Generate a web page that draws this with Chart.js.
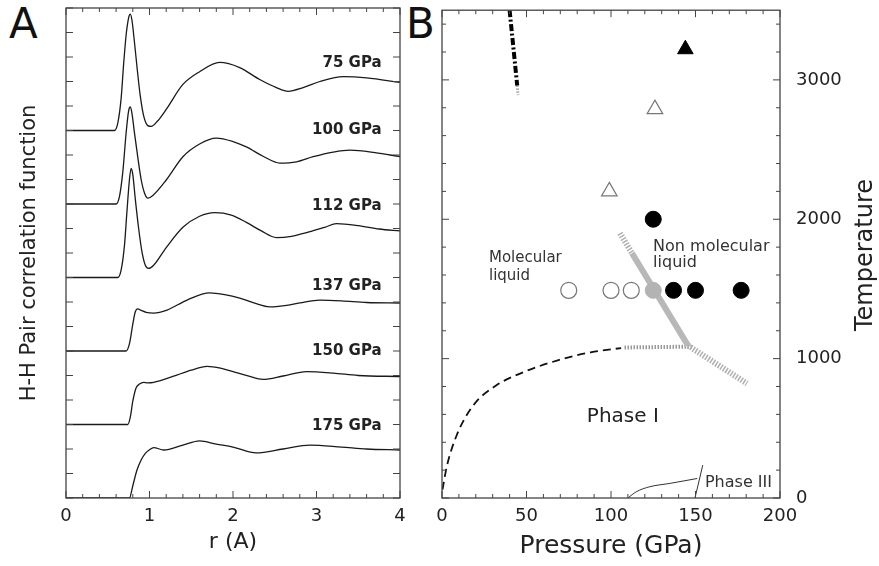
<!DOCTYPE html>
<html>
<head>
<meta charset="utf-8">
<script src="https://cdn.jsdelivr.net/npm/chart.js@4.4.1/dist/chart.umd.min.js"></script>
<style>
  body { margin: 0; background: #fff; width: 879px; height: 566px; position: relative; overflow: hidden; font-family: 'DejaVu Sans', sans-serif; }
  canvas { position: absolute; top: 0; }
  #cA { left: 0; }
  #cB { left: 420px; }
  .letter { position: absolute; top: 3px; font-size: 42px; line-height: 1; color: #111; }
  #temp { position: absolute; left: 764px; top: 243px; width: 200px; height: 24px; font-size: 24px; line-height: 1;
          text-align: center; color: #222; transform: rotate(-90deg); white-space: nowrap; }
</style>
</head>
<body>
<div class="letter" style="left:9px">A</div>
<div class="letter" style="left:406px">B</div>
<canvas id="cA" width="430" height="566"></canvas>
<canvas id="cB" width="459" height="566"></canvas>
<div id="temp">Temperature</div>
<script>
// ---- panel A : g(r) curves, shifted upward by an offset each ----
const pressuresA = ['75 GPa', '100 GPa', '112 GPa', '137 GPa', '150 GPa', '175 GPa'];
const offsetsA = [15, 12, 9, 6, 3, 0];
const labelYA = [17.75, 15.0, 11.9, 8.65, 6.0, 2.95];

const r75 = [0, 0.58, 0.62, 0.66, 0.69, 0.72, 0.75, 0.77, 0.79, 0.82, 0.85, 0.89, 0.93, 0.98, 1.02, 1.1, 1.2, 1.4, 1.6, 1.84, 2.08, 2.32, 2.52, 2.66, 2.84, 3.04, 3.32, 3.6, 4.0];
const g75 = [0, 0, 0.3, 1.3, 2.7, 3.9, 4.6, 4.75, 4.5, 3.6, 2.6, 1.4, 0.6, 0.2, 0.17, 0.4, 0.86, 1.88, 2.4, 2.78, 2.57, 2.08, 1.75, 1.6, 1.75, 2.0, 2.2, 2.15, 1.96];

const r100 = [0, 0.6, 0.64, 0.68, 0.72, 0.75, 0.77, 0.79, 0.82, 0.86, 0.9, 0.94, 0.98, 1.04, 1.2, 1.4, 1.6, 1.8, 2.0, 2.16, 2.36, 2.56, 2.76, 2.96, 3.2, 3.4, 3.7, 4.0];
const g100 = [0, 0, 0.3, 1.3, 2.9, 3.8, 3.96, 3.7, 2.9, 1.9, 1.0, 0.45, 0.24, 0.35, 0.98, 1.93, 2.45, 2.69, 2.55, 2.33, 1.95, 1.67, 1.72, 1.93, 2.12, 2.2, 2.1, 1.93];

const r112 = [0, 0.62, 0.66, 0.7, 0.73, 0.76, 0.78, 0.8, 0.83, 0.87, 0.91, 0.95, 0.99, 1.05, 1.2, 1.4, 1.6, 1.78, 1.98, 2.16, 2.34, 2.52, 2.7, 2.9, 3.1, 3.24, 3.5, 3.75, 4.0];
const g112 = [0, 0, 0.3, 1.3, 2.7, 4.0, 4.45, 4.2, 3.2, 2.0, 1.05, 0.5, 0.37, 0.5, 1.22, 2.05, 2.5, 2.65, 2.55, 2.25, 1.9, 1.63, 1.68, 1.85, 2.05, 2.2, 2.12, 1.98, 1.9];

const r137 = [0, 0.72, 0.76, 0.8, 0.83, 0.86, 0.9, 0.96, 1.05, 1.21, 1.45, 1.72, 1.9, 2.08, 2.26, 2.44, 2.62, 2.8, 3.04, 3.3, 3.6, 4.0];
const g137 = [0, 0, 0.3, 1.1, 1.6, 1.72, 1.66, 1.58, 1.55, 1.67, 2.08, 2.37, 2.3, 2.16, 1.95, 1.8, 1.85, 1.96, 2.08, 2.05, 1.98, 1.96];

const r150 = [0, 0.74, 0.77, 0.8, 0.84, 0.88, 0.93, 0.98, 1.05, 1.28, 1.5, 1.69, 1.85, 2.0, 2.18, 2.36, 2.6, 2.88, 3.2, 3.5, 4.0];
const g150 = [0, 0, 0.3, 0.95, 1.5, 1.65, 1.72, 1.7, 1.72, 1.96, 2.22, 2.37, 2.3, 2.16, 1.98, 1.84, 1.98, 2.16, 2.1, 2.0, 1.96];

const r175 = [0, 0.76, 0.8, 0.85, 0.9, 0.95, 1.0, 1.05, 1.17, 1.4, 1.6, 1.8, 2.0, 2.28, 2.6, 2.92, 3.3, 3.6, 4.0];
const g175 = [0, 0, 0.5, 1.14, 1.55, 1.82, 1.97, 2.06, 1.96, 2.16, 2.33, 2.2, 2.08, 1.84, 2.0, 2.16, 2.08, 2.0, 1.96];

const curvesA = [[r75, g75], [r100, g100], [r112, g112], [r137, g137], [r150, g150], [r175, g175]];

// ---- panel B : phase diagram ----
const openCircleP = [75, 100, 112];
const openCircleT = [1490, 1490, 1490];
const grayCircleP = [125];
const grayCircleT = [1490];
const filledCircleP = [125, 137, 150, 177];
const filledCircleT = [2000, 1490, 1490, 1490];
const openTriP = [99, 126];
const openTriT = [2200, 2790];
const filledTriP = [144];
const filledTriT = [3220];

const dashDotP = [40, 44.5];
const dashDotT = [3500, 2960];
const dashDotTailP = [44.5, 45];
const dashDotTailT = [2960, 2890];
const boundaryP = [112.4, 145.6];
const boundaryT = [1757, 1093];
const boundaryUpP = [105.3, 112.4];
const boundaryUpT = [1900, 1757];
const boundaryLowP = [145.6, 180.5];
const boundaryLowT = [1093, 821];
const meltP = [0.3, 2.8, 8.7, 18.5, 32, 48, 68, 88, 106];
const meltT = [60, 224, 450, 664, 807, 902, 986, 1045, 1076];
const meltTailP = [108, 148];
const meltTailT = [1080, 1086];
const phase3P = [110, 115, 123, 135, 151];
const phase3T = [0, 45, 81, 105, 140];
const phase3VP = [149.7, 154.3];
const phase3VT = [0, 236];
const tempLabels = [0, 1000, 2000, 3000];

const pts = (xs, ys) => xs.map((x, i) => ({x: x, y: ys[i]}));
const FONT = "'DejaVu Sans', sans-serif";

// frame + inward ticks on all four sides
function frameTicks(c) {
  return {
    id: 'frameTicks',
    afterDatasetsDraw(chart) {
      const {ctx, chartArea: a} = chart;
      const xs = chart.scales.x, ys = chart.scales.y;
      ctx.save();
      ctx.strokeStyle = '#444';
      ctx.lineWidth = 1.3;
      ctx.strokeRect(a.left, a.top, a.width, a.height);
      ctx.lineWidth = 1;
      ctx.beginPath();
      const nx = Math.round((xs.max - xs.min) / c.xMinor);
      for (let i = 0; i <= nx; i++) {
        const px = xs.getPixelForValue(xs.min + i * c.xMinor);
        const len = i % c.xEvery === 0 ? 7 : 4;
        ctx.moveTo(px, a.bottom); ctx.lineTo(px, a.bottom - len);
        ctx.moveTo(px, a.top); ctx.lineTo(px, a.top + len);
      }
      const ny = Math.floor((ys.max - ys.min) / c.yMinor + 1e-6);
      for (let i = 0; i <= ny; i++) {
        const py = ys.getPixelForValue(ys.min + i * c.yMinor);
        const len = i % c.yEvery === 0 ? 7 : 4;
        ctx.moveTo(a.left, py); ctx.lineTo(a.left + len, py);
        ctx.moveTo(a.right, py); ctx.lineTo(a.right - len, py);
      }
      ctx.stroke();
      ctx.restore();
    }
  };
}

function notes(items) {
  return {
    id: 'notes',
    afterDatasetsDraw(chart) {
      const {ctx} = chart;
      ctx.save();
      ctx.textBaseline = 'middle';
      items.forEach(n => {
        ctx.font = n.font;
        ctx.fillStyle = n.color || '#222';
        ctx.textAlign = n.align;
        ctx.fillText(n.text, chart.scales.x.getPixelForValue(n.x), chart.scales.y.getPixelForValue(n.y));
      });
      ctx.restore();
    }
  };
}

const tickFont = {family: FONT, size: 18};

// ---------- chart A ----------
new Chart(document.getElementById('cA'), {
  type: 'scatter',
  data: {
    datasets: curvesA.map((c, k) => ({
      label: pressuresA[k],
      data: c[0].map((r, i) => ({x: r, y: c[1][i] + offsetsA[k]})),
      showLine: true,
      borderColor: '#1a1a1a',
      borderWidth: 1.3,
      pointRadius: 0,
      cubicInterpolationMode: 'monotone'
    }))
  },
  options: {
    responsive: false,
    animation: false,
    layout: {padding: {top: 8, right: 30, left: 0, bottom: 0}},
    plugins: {legend: {display: false}, tooltip: {enabled: false}},
    scales: {
      x: {
        type: 'linear', min: 0, max: 4,
        grid: {display: false, drawTicks: false},
        border: {display: false},
        ticks: {stepSize: 1, font: tickFont, color: '#222', padding: 8, maxRotation: 0},
        title: {display: true, text: 'r (A)', font: {family: FONT, size: 22}, color: '#222', padding: {top: 0, bottom: 11}},
        afterFit: s => { s.height = 68; }
      },
      y: {
        type: 'linear', min: 0, max: 20,
        grid: {display: false, drawTicks: false},
        border: {display: false},
        ticks: {display: false},
        title: {display: true, text: 'H-H Pair correlation function', font: {family: FONT, size: 21}, color: '#222', padding: {top: 17, bottom: 0}},
        afterFit: s => { s.width = 66; }
      }
    }
  },
  plugins: [
    frameTicks({xMinor: 0.2, xEvery: 5, yMinor: 1, yEvery: 1}),
    notes(pressuresA.map((p, k) => ({text: p, x: 3.78, y: labelYA[k], align: 'right', font: 'bold 15px ' + FONT})))
  ]
});

// ---------- chart B ----------
const lineDs = (d, color, width, dash) => ({
  data: d, showLine: true, borderColor: color, borderWidth: width,
  borderDash: dash || [], pointRadius: 0, cubicInterpolationMode: 'monotone'
});

new Chart(document.getElementById('cB'), {
  type: 'scatter',
  data: {
    datasets: [
      {data: pts(filledTriP, filledTriT), pointStyle: 'triangle', pointRadius: 9, backgroundColor: '#000', borderColor: '#000', borderWidth: 1},
      {data: pts(openTriP, openTriT), pointStyle: 'triangle', pointRadius: 9, backgroundColor: '#fff', borderColor: '#777', borderWidth: 1.2},
      {data: pts(filledCircleP, filledCircleT), pointStyle: 'circle', pointRadius: 8, backgroundColor: '#000', borderColor: '#000', borderWidth: 1},
      {data: pts(grayCircleP, grayCircleT), pointStyle: 'circle', pointRadius: 8, backgroundColor: '#b3b3b3', borderColor: '#b3b3b3', borderWidth: 1},
      {data: pts(openCircleP, openCircleT), pointStyle: 'circle', pointRadius: 8, backgroundColor: '#fff', borderColor: '#777', borderWidth: 1.2},
      lineDs(pts(boundaryP, boundaryT), '#b8b8b8', 6),
      lineDs(pts(boundaryUpP, boundaryUpT), '#b0b0b0', 6, [1.5, 1.5]),
      lineDs(pts(boundaryLowP, boundaryLowT), '#b0b0b0', 6, [1.5, 1.5]),
      lineDs(pts(meltTailP, meltTailT), '#999', 4, [1.5, 1.5]),
      lineDs(pts(meltP, meltT), '#111', 1.8, [8, 5]),
      lineDs(pts(dashDotP, dashDotT), '#000', 4, [7, 2.5, 2, 2.5]),
      lineDs(pts(dashDotTailP, dashDotTailT), '#aaa', 3, [1.5, 1.5]),
      lineDs(pts(phase3P, phase3T), '#333', 1),
      lineDs(pts(phase3VP, phase3VT), '#333', 1)
    ]
  },
  options: {
    responsive: false,
    animation: false,
    layout: {padding: {top: 8, right: 0, left: 22, bottom: 0}},
    plugins: {legend: {display: false}, tooltip: {enabled: false}},
    scales: {
      x: {
        type: 'linear', min: 0, max: 200,
        grid: {display: false, drawTicks: false},
        border: {display: false},
        ticks: {stepSize: 50, font: tickFont, color: '#222', padding: 8, maxRotation: 0},
        title: {display: true, text: 'Pressure (GPa)', font: {family: FONT, size: 25}, color: '#222', padding: {top: 0, bottom: 5}},
        afterFit: s => { s.height = 68; }
      },
      y: {
        type: 'linear', position: 'right', min: 0, max: 3500,
        grid: {display: false, drawTicks: false},
        border: {display: false},
        afterBuildTicks: s => { s.ticks = tempLabels.map(v => ({value: v})); },
        ticks: {font: tickFont, color: '#222', padding: 16, callback: v => String(v)},
        afterFit: s => { s.width = 99; s.paddingTop = 0; s.paddingBottom = 0; }
      }
    }
  },
  plugins: [
    frameTicks({xMinor: 10, xEvery: 5, yMinor: 200, yEvery: 5}),
    notes([
      {text: 'Molecular', x: 27.8, y: 1721, align: 'left', font: '15px ' + FONT, color: '#333'},
      {text: 'liquid', x: 27.8, y: 1593, align: 'left', font: '15px ' + FONT, color: '#333'},
      {text: 'Non molecular', x: 124.9, y: 1800, align: 'left', font: '16px ' + FONT, color: '#333'},
      {text: 'liquid', x: 124.9, y: 1686, align: 'left', font: '16px ' + FONT, color: '#333'},
      {text: 'Phase I', x: 107, y: 586, align: 'center', font: '20px ' + FONT, color: '#222'},
      {text: 'Phase III', x: 155.6, y: 107, align: 'left', font: '16px ' + FONT, color: '#333'}
    ])
  ]
});
</script>
</body>
</html>
